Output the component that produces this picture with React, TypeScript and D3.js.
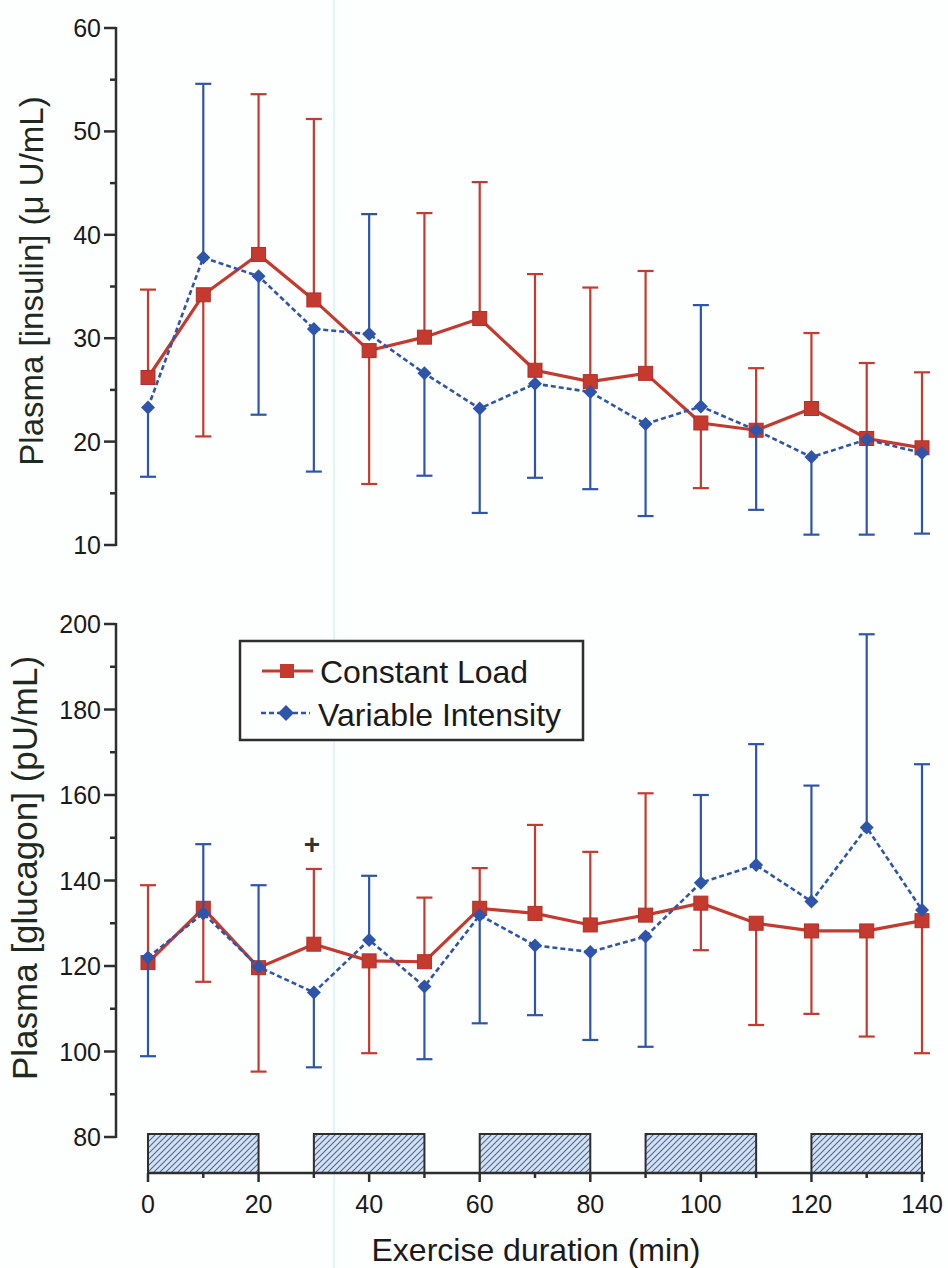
import React from "react";
import * as d3 from "d3";

const times = [0, 10, 20, 30, 40, 50, 60, 70, 80, 90, 100, 110, 120, 130, 140];

const insulinCL = [26.2, 34.2, 38.1, 33.7, 28.8, 30.1, 31.9, 26.9, 25.8, 26.6, 21.8, 21.1, 23.2, 20.3, 19.4];
const insulinCLBar = [34.7, 20.5, 53.6, 51.2, 15.9, 42.1, 45.1, 36.2, 34.9, 36.5, 15.5, 27.1, 30.5, 27.6, 26.7];
const insulinVI = [23.3, 37.8, 36.0, 30.9, 30.4, 26.6, 23.2, 25.6, 24.8, 21.7, 23.4, 21.1, 18.5, 20.2, 18.9];
const insulinVIBar = [16.6, 54.6, 22.6, 17.1, 42.0, 16.7, 13.1, 16.5, 15.4, 12.8, 33.2, 13.4, 11.0, 11.0, 11.1];

const glucagonCL = [120.8, 133.5, 119.6, 125.1, 121.2, 121.0, 133.5, 132.3, 129.6, 131.9, 134.7, 130.0, 128.2, 128.2, 130.6];
const glucagonCLBar = [138.9, 116.3, 95.3, 142.7, 99.6, 136.0, 142.9, 153.0, 146.7, 160.4, 123.7, 106.2, 108.8, 103.5, 99.6];
const glucagonVI = [122.0, 132.3, 119.8, 113.8, 126.1, 115.2, 131.9, 124.8, 123.3, 126.9, 139.5, 143.6, 135.1, 152.4, 133.1];
const glucagonVIBar = [98.9, 148.5, 138.9, 96.3, 141.1, 98.2, 106.6, 108.5, 102.7, 101.1, 160.0, 171.9, 162.2, 197.6, 167.2];

const exerciseBlocks: [number, number][] = [[0, 20], [30, 50], [60, 80], [90, 110], [120, 140]];
const xTicks = [0, 20, 40, 60, 80, 100, 120, 140];
const xMinorTicks = [10, 30, 50, 70, 90, 110, 130];
const insulinTicks = [10, 20, 30, 40, 50, 60];
const insulinMinor = [15, 25, 35, 45, 55];
const glucagonTicks = [80, 100, 120, 140, 160, 180, 200];
const glucagonMinor = [90, 110, 130, 150, 170, 190];
const seriesNames = ["Constant Load", "Variable Intensity"];
const sigMarks = [{ t: 30, v: 148.5, label: "+" }];

const RED = "#c43a2e";
const BLUE = "#2f55aa";
const AXIS = "#2e2e2e";
const FONT = "Liberation Sans, Arial, sans-serif";

const x = d3.scaleLinear().domain([0, 140]).range([148, 922]);
const yIns = d3.scaleLinear().domain([10, 60]).range([545, 28]);
const yGlu = d3.scaleLinear().domain([80, 200]).range([1137, 624]);
const yBand = d3.scaleLinear().domain([0, 1]).range([1173, 1134]);

const AXIS_X = 116;

function YAxis({ scale, ticks, minor }: { scale: d3.ScaleLinear<number, number>; ticks: number[]; minor: number[] }) {
  const [d0, d1] = scale.domain();
  return (
    <g>
      <line x1={AXIS_X} x2={AXIS_X} y1={scale(d1) - 1} y2={scale(d0) + 1} stroke={AXIS} strokeWidth={2.5} />
      {ticks.map((t) => (
        <g key={t}>
          <line x1={AXIS_X - 12} x2={AXIS_X} y1={scale(t)} y2={scale(t)} stroke={AXIS} strokeWidth={2.5} />
          <text x={AXIS_X - 15} y={scale(t)} dy="0.36em" textAnchor="end" fontSize={25} fontFamily={FONT} fill="#1a1a1a">
            {t}
          </text>
        </g>
      ))}
      {minor.map((t) => (
        <line key={t} x1={AXIS_X - 6} x2={AXIS_X} y1={scale(t)} y2={scale(t)} stroke={AXIS} strokeWidth={2.5} />
      ))}
    </g>
  );
}

function Series({
  vals, bars, scale, color, dashed, marker,
}: {
  vals: number[]; bars: number[]; scale: d3.ScaleLinear<number, number>; color: string; dashed: boolean; marker: "square" | "diamond";
}) {
  const line = d3.line<number>().x((_, i) => x(times[i])).y((v) => scale(v));
  return (
    <g>
      {vals.map((v, i) => (
        <g key={"e" + i}>
          <line x1={x(times[i])} x2={x(times[i])} y1={scale(v)} y2={scale(bars[i])} stroke={color} strokeWidth={2.2} />
          <line x1={x(times[i]) - 8} x2={x(times[i]) + 8} y1={scale(bars[i])} y2={scale(bars[i])} stroke={color} strokeWidth={2.2} />
        </g>
      ))}
      <path d={line(vals) || ""} fill="none" stroke={color} strokeWidth={dashed ? 2.6 : 3.2} strokeDasharray={dashed ? "5,3" : undefined} />
      {vals.map((v, i) =>
        marker === "square" ? (
          <rect key={"m" + i} x={x(times[i]) - 7} y={scale(v) - 7} width={14} height={14} fill={RED} stroke="#b0302a" strokeWidth={1} />
        ) : (
          <path key={"m" + i} d={`M${x(times[i])},${scale(v) - 7}L${x(times[i]) + 7},${scale(v)}L${x(times[i])},${scale(v) + 7}L${x(times[i]) - 7},${scale(v)}Z`} fill={BLUE} />
        )
      )}
    </g>
  );
}

export default function App() {
  const bandY = yBand(0);
  return (
    <svg width={948} height={1268} style={{ position: "absolute", left: 0, top: 0, background: "#fdfefe" }}>
      <defs>
        <pattern id="hatch" patternUnits="userSpaceOnUse" width={6} height={6}>
          <rect width={6} height={6} fill="#d3e1f3" />
          <path d="M0,6 L6,0 M-1,1 L1,-1 M5,7 L7,5" stroke="#4e6a95" strokeWidth={1.1} />
        </pattern>
      </defs>
      <rect width={948} height={1268} fill="#fdfefe" />
      <line x1={334} x2={334} y1={0} y2={1268} stroke="#d6f3f3" strokeWidth={1.5} />

      {/* Top panel: insulin */}
      <YAxis scale={yIns} ticks={insulinTicks} minor={insulinMinor} />
      <text transform={`translate(43,281) rotate(-90)`} textAnchor="middle" fontSize={33} fontFamily={FONT} fill="#1f2a1f">
        Plasma [insulin] (μ U/mL)
      </text>
      <Series vals={insulinCL} bars={insulinCLBar} scale={yIns} color={RED} dashed={false} marker="square" />
      <Series vals={insulinVI} bars={insulinVIBar} scale={yIns} color={BLUE} dashed={true} marker="diamond" />

      {/* Bottom panel: glucagon */}
      <YAxis scale={yGlu} ticks={glucagonTicks} minor={glucagonMinor} />
      <text transform={`translate(37,868) rotate(-90)`} textAnchor="middle" fontSize={35} fontFamily={FONT} fill="#1f2a1f">
        Plasma [glucagon] (pU/mL)
      </text>
      <Series vals={glucagonCL} bars={glucagonCLBar} scale={yGlu} color={RED} dashed={false} marker="square" />
      <Series vals={glucagonVI} bars={glucagonVIBar} scale={yGlu} color={BLUE} dashed={true} marker="diamond" />
      {sigMarks.map((s) => (
        <text key={s.t} x={x(s.t) - 2} y={yGlu(s.v)} dy="0.36em" textAnchor="middle" fontSize={28} fontWeight="bold" fontFamily={FONT} fill="#333">
          {s.label}
        </text>
      ))}

      {/* Legend */}
      <g>
        <rect x={240} y={641} width={343} height={99} fill="#fdfefe" stroke={AXIS} strokeWidth={2.5} />
        <line x1={262} x2={313} y1={671} y2={671} stroke={RED} strokeWidth={3} />
        <rect x={280} y={664} width={14} height={14} fill={RED} />
        <text x={320} y={683} fontSize={32} fontFamily={FONT} fill="#1a1a1a">{seriesNames[0]}</text>
        <line x1={261} x2={310} y1={713} y2={713} stroke={BLUE} strokeWidth={2.6} strokeDasharray="5,3" />
        <path d="M286,705L294,713L286,721L278,713Z" fill={BLUE} />
        <text x={318} y={726} fontSize={32} fontFamily={FONT} fill="#1a1a1a">{seriesNames[1]}</text>
      </g>

      {/* Exercise blocks and x axis */}
      {exerciseBlocks.map(([a, b]) => (
        <rect key={a} x={x(a)} y={yBand(1)} width={x(b) - x(a)} height={yBand(0) - yBand(1)} fill="url(#hatch)" stroke={AXIS} strokeWidth={2} />
      ))}
      <line x1={x(0) - 1} x2={x(140) + 3} y1={bandY} y2={bandY} stroke={AXIS} strokeWidth={2.5} />
      {xTicks.map((t) => (
        <g key={t}>
          <line x1={x(t)} x2={x(t)} y1={bandY} y2={bandY + 9} stroke={AXIS} strokeWidth={2.5} />
          <text x={x(t)} y={bandY + 40} textAnchor="middle" fontSize={25} fontFamily={FONT} fill="#1a1a1a">{t}</text>
        </g>
      ))}
      {xMinorTicks.map((t) => (
        <line key={t} x1={x(t)} x2={x(t)} y1={bandY} y2={bandY + 5} stroke={AXIS} strokeWidth={2.5} />
      ))}
      <text x={536} y={1261} textAnchor="middle" fontSize={32} fontFamily={FONT} fill="#1a1a1a">Exercise duration (min)</text>
    </svg>
  );
}
